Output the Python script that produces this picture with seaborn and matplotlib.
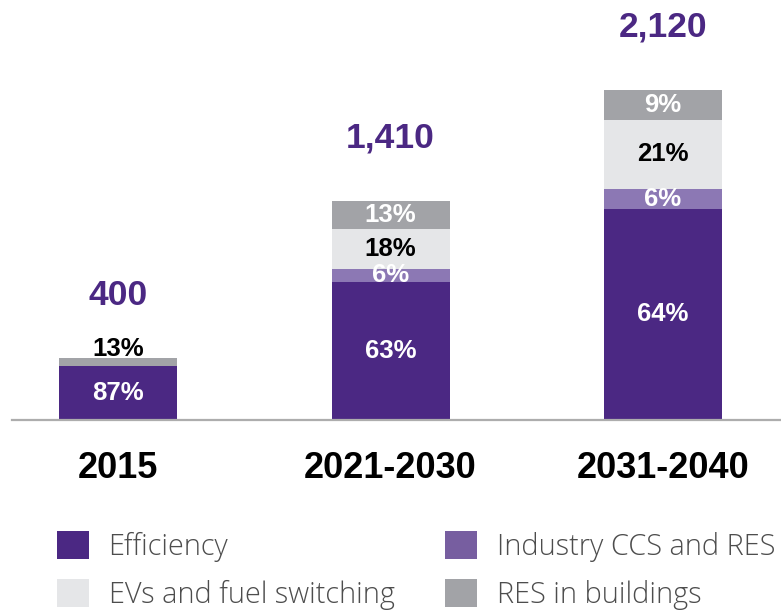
import matplotlib
matplotlib.use("Agg")
import matplotlib.pyplot as plt
import matplotlib.patches as mpatches
import seaborn as sns
import numpy as np
import pandas as pd

# ---- data ----
periods = ["2015", "2021-2030", "2031-2040"]
totals = [400, 1410, 2120]
series = ["Efficiency", "Industry CCS and RES", "EVs and fuel switching", "RES in buildings"]
pct_efficiency = [87, 63, 64]
pct_ccs = [0, 6, 6]
pct_evs = [0, 18, 21]
pct_res_buildings = [13, 13, 9]

colors = {
    "Efficiency": "#4B2883",
    "Industry CCS and RES": "#8C78B4",
    "EVs and fuel switching": "#E5E6E8",
    "RES in buildings": "#A2A3A7",
}
legend_colors = {
    "Efficiency": "#4B2883",
    "Industry CCS and RES": "#775EA0",
    "EVs and fuel switching": "#E5E6E8",
    "RES in buildings": "#A2A3A7",
}
label_colors = {
    "Efficiency": "white",
    "Industry CCS and RES": "white",
    "EVs and fuel switching": "black",
    "RES in buildings": "white",
}
total_color = "#4B2883"

sns.set_style("white")
plt.rcParams["font.family"] = ["Liberation Sans", "DejaVu Sans"]

pcts = {
    "Efficiency": pct_efficiency,
    "Industry CCS and RES": pct_ccs,
    "EVs and fuel switching": pct_evs,
    "RES in buildings": pct_res_buildings,
}
vals = {s: np.array(totals) * np.array(pcts[s]) / 100.0 for s in series}
cum = {}
running = np.zeros(len(periods))
bottoms = {}
for s in series:
    bottoms[s] = running.copy()
    running = running + vals[s]
    cum[s] = running.copy()

fig = plt.figure(figsize=(7.81, 6.11), dpi=100)
ax = fig.add_axes([12 / 781, 191 / 611, 769 / 781, 420 / 611])

bar_w = 0.433
for s in reversed(series):
    df = pd.DataFrame({"period": periods, "value": cum[s]})
    sns.barplot(data=df, x="period", y="value", color=colors[s], saturation=1,
                width=bar_w, errorbar=None, linewidth=0, ax=ax)

ax.set_xlim(-0.389, 2.433)
ax.set_ylim(0, 2698)
ax.set_xlabel("")
ax.set_ylabel("")
ax.set_yticks([])
for sp in ["top", "right", "left"]:
    ax.spines[sp].set_visible(False)
ax.spines["bottom"].set_color("#ADADAD")
ax.spines["bottom"].set_linewidth(1.6)
ax.tick_params(axis="x", length=0, pad=22, labelsize=26)
for t in ax.get_xticklabels():
    t.set_fontweight("bold")
    t.set_color("black")

# segment labels
for i in range(len(periods)):
    for s in series:
        v = vals[s][i]
        p = pcts[s][i]
        if p <= 0:
            continue
        if v < 60:
            ax.annotate(f"{p}%", xy=(i, cum[s][i]), xytext=(0, 6), textcoords="offset points",
                        ha="center", va="center", fontsize=18.5, fontweight="bold", color="black")
        else:
            ax.text(i, bottoms[s][i] + v / 2, f"{p}%", ha="center", va="center",
                    fontsize=18.5, fontweight="bold", color=label_colors[s])
    ax.annotate(f"{totals[i]:,}", xy=(i, totals[i]), xytext=(0, 45), textcoords="offset points",
                ha="center", va="center", fontsize=25.5, fontweight="bold", color=total_color)

# legend: two columns
def mk(s):
    return mpatches.Patch(facecolor=legend_colors[s], edgecolor="none", label=s)

fs = 20.8
leg_kw = dict(frameon=False, handlelength=23 / fs, handleheight=23 / fs,
              handletextpad=0.68, labelspacing=0.6, borderpad=0, borderaxespad=0,
              loc="upper left", prop={"family": ["Open Sans", "DejaVu Sans"], "weight": "light", "size": fs})
leg1 = fig.legend(handles=[mk("Efficiency"), mk("EVs and fuel switching")],
                  bbox_to_anchor=(57 / 781, 1 - 531 / 611), **leg_kw)
leg2 = fig.legend(handles=[mk("Industry CCS and RES"), mk("RES in buildings")],
                  bbox_to_anchor=(445 / 781, 1 - 531 / 611), **leg_kw)
for lg in (leg1, leg2):
    for t in lg.get_texts():
        t.set_color("#4D4D4D")

fig.savefig("out.png", dpi=100)
